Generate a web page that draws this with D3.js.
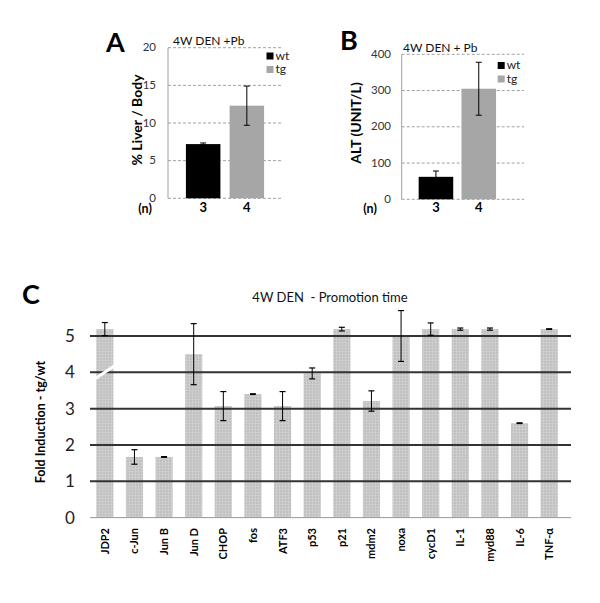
<!DOCTYPE html>
<html><head><meta charset="utf-8">
<script src="https://cdn.jsdelivr.net/npm/d3@7"></script>
<style>body{margin:0;background:#fff}svg{display:block}text{font-family:Lato,"Open Sans",sans-serif}</style>
</head><body>
<svg id="c" width="600" height="603"></svg>
<script>
// Panel A data
const groupsAB = ["wt","tg"];
const nLabels = ["3","4"];
const liverVals = [7.2, 12.3];
const liverErr = [0.15, 2.6];
const liverTicks = [0,5,10,15,20];
// Panel B data
const altVals = [62, 305];
const altErr = [16, 73];
const altTicks = [0,100,200,300,400];
// Panel C data
const genes = ["JDP2","c-Jun","Jun B","Jun D","CHOP","fos","ATF3","p53","p21","mdm2","noxa","cycD1","IL-1","myd88","IL-6","TNF-α"];
const foldVals = [5.19,1.67,1.67,4.5,3.07,3.4,3.07,3.97,5.19,3.21,5.0,5.19,5.19,5.19,2.6,5.19];
const foldErr = [0.18,0.2,0.01,0.84,0.4,0.01,0.4,0.15,0.05,0.28,0.7,0.17,0.03,0.03,0.01,0.01];
const foldTicks = [0,1,2,3,4,5];

const svg = d3.select("#c");
const colors = {wt:"#000000", tg:"#a6a6a6"};

// pattern for panel C
const defs = svg.append("defs");
const pat = defs.append("pattern").attr("id","hatch").attr("patternUnits","userSpaceOnUse").attr("width",3).attr("height",3);
pat.append("rect").attr("width",3).attr("height",3).attr("fill","#c0c0c0");
pat.append("rect").attr("width",1).attr("height",3).attr("fill","#cecece");
pat.append("rect").attr("width",3).attr("height",1).attr("fill","#cdcdcd");

function smallPanel(cfg){
  const g = svg.append("g");
  const y = d3.scaleLinear().domain(cfg.domain).range([cfg.y0, cfg.y1]);
  const x = d3.scaleBand().domain(cfg.groups).range([cfg.x0, cfg.x1]).paddingInner(cfg.pi).paddingOuter(cfg.po);
  // gridlines
  g.selectAll(".grid").data(cfg.ticks).join("line")
    .attr("x1", cfg.x0).attr("x2", cfg.gridEnd)
    .attr("y1", d=>y(d)).attr("y2", d=>y(d))
    .attr("stroke","#a0a0a0").attr("stroke-width",1).attr("stroke-dasharray","3,2");
  // axis line
  g.append("line").attr("x1",cfg.x0).attr("x2",cfg.x0).attr("y1",y(cfg.domain[0])).attr("y2",y(cfg.domain[1]))
    .attr("stroke","#a0a0a0").attr("stroke-width",1);
  // tick labels
  g.selectAll(".tl").data(cfg.ticks).join("text")
    .attr("x", cfg.labelX).attr("y", d=>y(d)+3.5).attr("text-anchor","end")
    .attr("font-size",11.5).attr("fill","#333").text(d=>d);
  // bars
  g.selectAll(".bar").data(cfg.groups).join("rect")
    .attr("x", d=>x(d)).attr("width", x.bandwidth())
    .attr("y", (d,i)=>y(cfg.vals[i])).attr("height",(d,i)=>y(0)-y(cfg.vals[i]))
    .attr("fill", d=>colors[d]);
  // error bars
  cfg.groups.forEach((d,i)=>{
    const cx = x(d)+x.bandwidth()/2;
    const top = y(cfg.vals[i]+cfg.err[i]), bot = y(cfg.vals[i]-cfg.err[i]);
    g.append("line").attr("x1",cx).attr("x2",cx).attr("y1",top).attr("y2",bot).attr("stroke","#000").attr("stroke-width",1);
    [top,bot].forEach(yy=>g.append("line").attr("x1",cx-3).attr("x2",cx+3).attr("y1",yy).attr("y2",yy).attr("stroke","#000").attr("stroke-width",1));
    g.append("text").attr("x",cx).attr("y",cfg.nY).attr("text-anchor","middle").attr("font-size",13).attr("font-weight","bold").text(cfg.n[i]);
  });
  g.append("text").attr("x",cfg.nLabelX).attr("y",cfg.nY+0.5).attr("text-anchor","middle").attr("font-size",12.5).attr("font-weight","bold").text("(n)");
  // legend
  cfg.groups.forEach((d,i)=>{
    g.append("rect").attr("x",cfg.legX).attr("y",cfg.legY+i*13.5).attr("width",7).attr("height",7).attr("fill",colors[d]);
    g.append("text").attr("x",cfg.legX+9).attr("y",cfg.legY+i*13.5+7).attr("font-size",12).attr("fill","#222").text(d);
  });
  // title
  g.append("text").attr("x",cfg.titleX).attr("y",cfg.titleY).attr("font-size",12).attr("fill","#111").text(cfg.title);
  // panel letter
  g.append("text").attr("x",cfg.letterX).attr("y",cfg.letterY).attr("font-size",27).attr("font-weight","bold").attr("font-family","Liberation Sans, Arial, sans-serif").text(cfg.letter);
  // y label
  g.append("text").attr("transform",`translate(${cfg.ylabX},${cfg.ylabY}) rotate(-90)`).attr("text-anchor","middle")
    .attr("font-size",14).attr("font-weight","bold").text(cfg.ylab);
}

smallPanel({domain:[0,20], y0:198.3, y1:47.7, groups:groupsAB, x0:168, x1:282, pi:0.21, po:0.41, gridEnd:282,
  ticks:liverTicks, labelX:156, vals:liverVals, err:liverErr, n:nLabels, nY:212, nLabelX:145,
  legX:266.5, legY:52.5, title:"4W DEN +Pb", titleX:173, titleY:45, letter:"A", letterX:106, letterY:52,
  ylabX:142, ylabY:120, ylab:"% Liver / Body"});

smallPanel({domain:[0,400], y0:199.3, y1:54.3, groups:groupsAB, x0:401.7, x1:513, pi:0.193, po:0.396, gridEnd:524,
  ticks:altTicks, labelX:391, vals:altVals, err:altErr, n:nLabels, nY:212, nLabelX:370,
  legX:497.7, legY:62, title:"4W DEN + Pb", titleX:403, titleY:52, letter:"B", letterX:340, letterY:50,
  ylabX:361, ylabY:123, ylab:"ALT (UNIT/L)"});

// Panel C
const gc = svg.append("g");
const yC = d3.scaleLinear().domain([0,5]).range([517.6, 336]);
const xC = d3.scaleBand().domain(genes).range([90, 564]).paddingInner(0.42).paddingOuter(0.21);
// bars
gc.selectAll(".bar").data(genes).join("rect")
  .attr("x", d=>xC(d)).attr("width", xC.bandwidth())
  .attr("y",(d,i)=>yC(foldVals[i])).attr("height",(d,i)=>yC(0)-yC(foldVals[i]))
  .attr("fill","url(#hatch)");
// gridlines (drawn across bars like the reference)
gc.selectAll(".grid").data(foldTicks.filter(d=>d>0)).join("line")
  .attr("x1",90).attr("x2",571).attr("y1",d=>yC(d)).attr("y2",d=>yC(d))
  .attr("stroke","#333").attr("stroke-width",2);
gc.append("line").attr("x1",90).attr("x2",571).attr("y1",yC(0)).attr("y2",yC(0)).attr("stroke","#999").attr("stroke-width",1);
// break mark on first bar
const b0 = xC(genes[0]);
gc.append("line").attr("x1",b0-1).attr("x2",b0+xC.bandwidth()+1).attr("y1",yC(3.82)).attr("y2",yC(4.18))
  .attr("stroke","#fff").attr("stroke-width",3);
// error bars
genes.forEach((d,i)=>{
  const cx = xC(d)+xC.bandwidth()/2;
  const top = yC(foldVals[i]+foldErr[i]), bot = yC(foldVals[i]-foldErr[i]);
  gc.append("line").attr("x1",cx).attr("x2",cx).attr("y1",top).attr("y2",bot).attr("stroke","#000").attr("stroke-width",1);
  [top,bot].forEach(yy=>gc.append("line").attr("x1",cx-3).attr("x2",cx+3).attr("y1",yy).attr("y2",yy).attr("stroke","#000").attr("stroke-width",1.2));
});
// tick labels
gc.selectAll(".tl").data(foldTicks).join("text")
  .attr("x",70).attr("y",d=>yC(d)+6).attr("text-anchor","middle").attr("font-size",17).attr("fill","#222").text(d=>d);
// category labels
gc.selectAll(".cl").data(genes).join("text")
  .attr("transform",d=>`translate(${xC(d)+xC.bandwidth()/2+4},528) rotate(-90)`)
  .attr("text-anchor","end").attr("font-size",11).attr("font-weight","bold").text(d=>d);
// title
gc.append("text").attr("x",330).attr("y",302).attr("text-anchor","middle").attr("font-size",13).attr("fill","#111")
  .style("white-space","pre").text("4W DEN  - Promotion time");
gc.append("text").attr("x",22).attr("y",304).attr("font-size",27).attr("font-weight","bold").attr("font-family","Liberation Sans, Arial, sans-serif").text("C");
gc.append("text").attr("transform","translate(45,422) rotate(-90)").attr("text-anchor","middle")
  .attr("font-size",12.5).attr("font-weight","bold").text("Fold Induction - tg/wt");
</script>
</body></html>
